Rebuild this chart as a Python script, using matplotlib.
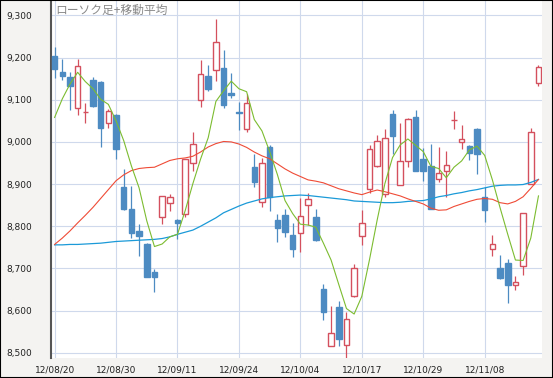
import matplotlib
matplotlib.use("Agg")
import matplotlib.pyplot as plt
from matplotlib.patches import Rectangle
from matplotlib.ticker import FuncFormatter

# daily candles 12/08/20 .. 12/11/19
date_labels = ["12/08/20", "12/08/30", "12/09/11", "12/09/24",
               "12/10/04", "12/10/17", "12/10/29", "12/11/08"]

opens = [9204, 9166, 9153, 9081, 9070, 9146, 9142, 9045, 9064, 8893,
         8840, 8790, 8759, 8691, 8822, 8855, 8814, 8829, 8951, 9100,
         9157, 9170, 9176, 9115, 9072, 9031, 8941, 8857, 8989, 8815,
         8827, 8780, 8784, 8850, 8822, 8651, 8516, 8609, 8519, 8635,
         8776, 8888, 8944, 8876, 9066, 8897, 8954, 9059, 8959, 8942,
         8911, 8932, 9051, 9000, 8991, 9031, 8869, 8745, 8702, 8712,
         8662, 8705, 8900, 9140]
highs = [9226, 9197, 9165, 9197, 9092, 9153, 9145, 9077, 9066, 8935,
         8896, 8806, 8761, 8698, 8872, 8876, 8818, 8960, 9023, 9194,
         9183, 9292, 9219, 9163, 9094, 9113, 8972, 8961, 8992, 8830,
         8842, 8808, 8868, 8880, 8840, 8663, 8610, 8622, 8597, 8711,
         8839, 8993, 9016, 9030, 9075, 9046, 9056, 9076, 8986, 8995,
         8987, 8978, 9073, 9041, 8992, 9033, 8892, 8780, 8731, 8723,
         8681, 8831, 9033, 9183]
lows = [9151, 9146, 9075, 9063, 9045, 9082, 8987, 9033, 8960, 8838,
        8772, 8729, 8679, 8645, 8806, 8837, 8770, 8822, 8932, 9083,
        9120, 9145, 9081, 9103, 9029, 9023, 8894, 8845, 8837, 8762,
        8774, 8728, 8739, 8803, 8765, 8579, 8516, 8516, 8485, 8632,
        8756, 8878, 8940, 8870, 8972, 8897, 8941, 8930, 8908, 8842,
        8905, 8870, 9030, 8983, 8958, 8923, 8811, 8730, 8676, 8619,
        8650, 8685, 8900, 9133]
closes = [9172, 9157, 9132, 9181, 9072, 9086, 9033, 9074, 8983, 8840,
          8784, 8776, 8680, 8680, 8871, 8869, 8807, 8960, 8996, 9161,
          9126, 9237, 9087, 9111, 9069, 9092, 8905, 8951, 8870, 8795,
          8786, 8747, 8825, 8864, 8768, 8596, 8547, 8534, 8580, 8701,
          8807, 8983, 9003, 9009, 9013, 8955, 9054, 8931, 8930, 8842,
          8927, 8946, 9053, 9007, 8973, 8971, 8838, 8759, 8677, 8661,
          8667, 8831, 9023, 9177]

# moving averages
ma_short = [9058, 9102, 9137, 9165, 9143, 9126, 9101, 9089, 9050, 9003,
            8943, 8891, 8813, 8752, 8758, 8775, 8781, 8837, 8901, 8959,
            9010, 9096, 9121, 9144, 9126, 9119, 9053, 9026, 8977, 8923,
            8861, 8830, 8805, 8803, 8798, 8760, 8720, 8662, 8605, 8592,
            8634, 8721, 8815, 8901, 8963, 8993, 9007, 8992, 8977, 8942,
            8937, 8915, 8940, 8955, 8981, 8990, 8968, 8910, 8844, 8781,
            8720, 8719, 8772, 8872]
ma_mid = [8757, 8772, 8789, 8808, 8826, 8845, 8866, 8887, 8908, 8922,
          8932, 8937, 8939, 8940, 8948, 8956, 8960, 8962, 8966, 8976,
          8988, 8996, 9001, 9000, 8995, 8987, 8976, 8967, 8960, 8948,
          8936, 8926, 8918, 8910, 8907, 8903, 8896, 8889, 8884, 8879,
          8875, 8881, 8886, 8882, 8877, 8872, 8865, 8859, 8853, 8843,
          8838, 8839, 8847, 8853, 8859, 8864, 8866, 8864, 8856, 8853,
          8859, 8870, 8890, 8911]
ma_long = [8756, 8756, 8757, 8757, 8758, 8759, 8760, 8762, 8764, 8765,
           8766, 8767, 8768, 8769, 8771, 8775, 8781, 8786, 8791, 8800,
           8810, 8820, 8832, 8840, 8848, 8855, 8860, 8865, 8868, 8870,
           8872, 8873, 8874, 8873, 8871, 8869, 8867, 8865, 8863, 8860,
           8859, 8858, 8857, 8856, 8856, 8857, 8859, 8860, 8861, 8865,
           8870, 8873, 8877, 8880, 8884, 8887, 8891, 8895, 8897, 8898,
           8898, 8899, 8904, 8911]

up_col = "#d4505e"
down_col = "#4d8bc2"
grid_col = "#cfd9ec"

fig = plt.figure(figsize=(5.53, 3.78), dpi=100, facecolor="#f4f3f1")
ax = fig.add_axes([51 / 553, 20.5 / 378, 491 / 553, 356.5 / 378])
ax.set_facecolor("white")

x = list(range(len(closes)))
for i in x:
    o, h, l, c = opens[i], highs[i], lows[i], closes[i]
    up = c >= o
    col = up_col if up else down_col
    ax.vlines(i, l, h, color=col, lw=0.9, zorder=2)
    hgt = max(abs(c - o), 2)
    ax.add_patch(Rectangle((i - 0.36, min(o, c)), 0.72, hgt,
                           facecolor="white" if up else down_col,
                           edgecolor=col, lw=1.0, zorder=3))

ax.plot(x, ma_long, color="#1b9ad8", lw=0.9, zorder=4)
ax.plot(x, ma_mid, color="#ef4b36", lw=0.8, zorder=4)
ax.plot(x, ma_short, color="#7cbc30", lw=0.8, zorder=4)

ax.set_xlim(-0.47, 63.46)
ax.set_ylim(8489, 9334)
ax.set_yticks(range(8500, 9301, 100))
ax.yaxis.set_major_formatter(FuncFormatter(lambda v, p: f"{v:,.0f}"))
ax.set_xticks(range(0, 64, 8))
ax.set_xticklabels(date_labels)
ax.grid(True, color=grid_col, lw=0.8, zorder=0)
ax.set_axisbelow(True)

ax.tick_params(axis="y", length=0, pad=13.5, labelsize=6.5, colors="#222222")
ax.tick_params(axis="x", length=0, pad=5.5, labelsize=6.5, colors="#222222")
for s in ["top", "right", "bottom"]:
    ax.spines[s].set_visible(False)
ax.spines["left"].set_color("#555555")
ax.spines["left"].set_linewidth(1.5)

ax.text(0.008, 0.992, "ローソク足+移動平均", transform=ax.transAxes,
        ha="left", va="top", fontsize=8.5, color="#8a8a8a",
        family=["Noto Sans CJK JP", "DejaVu Sans"], zorder=5)

fig.add_artist(Rectangle((0, 0), 1, 1, transform=fig.transFigure,
                         fill=False, edgecolor="black", lw=1.5))

plt.savefig("out.png", dpi=100, facecolor=fig.get_facecolor())
